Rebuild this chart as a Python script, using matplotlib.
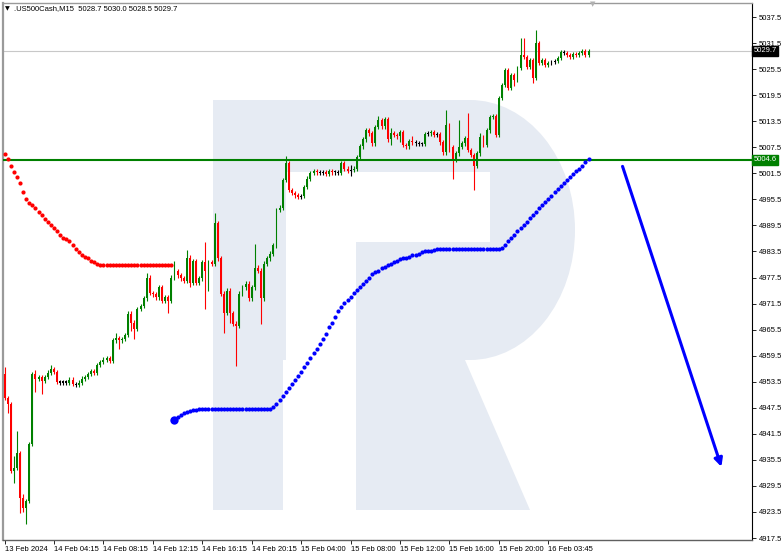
import matplotlib
matplotlib.use("Agg")
import matplotlib.pyplot as plt
from matplotlib.patches import Rectangle, Ellipse, Polygon
import numpy as np

W, H = 782, 556

# M15 closes (open = previous close)
first_open = 4955.3
closes = [
    4949.8, 4948.4, 4933.0, 4933.6, 4937.1, 4926.7, 4924.4, 4926.0, 4939.2, 4955.3,
    4954.2, 4954.6, 4953.7, 4954.6, 4955.6, 4956.5, 4955.8, 4953.5, 4953.3, 4953.5,
    4953.3, 4954.0, 4953.0, 4952.8, 4953.3, 4954.2, 4954.6, 4955.3, 4956.0, 4955.6,
    4957.4, 4958.1, 4958.6, 4959.0, 4958.3, 4963.0, 4963.6, 4963.0, 4963.4, 4964.3,
    4969.2, 4967.1, 4965.7, 4970.3, 4971.0, 4972.7, 4977.5, 4974.0, 4973.6, 4972.9,
    4975.2, 4972.2, 4972.9, 4972.2, 4977.5, 4978.9, 4978.0, 4977.3, 4976.8, 4982.1,
    4976.3, 4981.2, 4976.3, 4977.3, 4981.0, 4978.9, 4981.0, 4980.7, 4990.0, 4981.9,
    4973.8, 4969.4, 4974.5, 4969.4, 4966.9, 4966.4, 4973.8, 4975.2, 4976.1, 4972.7,
    4975.2, 4979.8, 4979.1, 4972.7, 4980.7, 4981.9, 4983.0, 4984.9, 4993.0, 4993.6,
    4999.9, 5003.8, 4997.6, 4996.9, 4996.4, 4996.0, 4996.2, 4998.3, 5000.3, 5001.5,
    5002.0, 5001.7, 5001.5, 5001.7, 5001.3, 5002.0, 5001.7, 5001.7, 5001.5, 5003.8,
    5002.6, 5002.0, 5002.2, 5002.6, 5005.2, 5007.7, 5009.3, 5011.4, 5010.7, 5008.4,
    5012.1, 5013.7, 5012.3, 5014.0, 5009.3, 5010.7, 5010.3, 5010.0, 5011.0, 5008.0,
    5007.7, 5008.9, 5008.6, 5008.4, 5008.2, 5008.2, 5010.5, 5010.7, 5011.0, 5010.3,
    5010.5, 5008.6, 5006.3, 5012.6, 5007.5, 5004.5, 5006.1, 5007.5, 5008.4, 5009.6,
    5006.8, 5005.7, 5003.3, 5006.1, 5009.8, 5008.0, 5011.4, 5014.4, 5014.7, 5010.3,
    5018.8, 5021.8, 5025.3, 5021.1, 5024.1, 5023.0, 5025.7, 5028.7, 5028.3, 5026.0,
    5027.6, 5023.4, 5031.5, 5026.9, 5027.6, 5026.4, 5026.9, 5027.1, 5027.3, 5028.0,
    5029.4, 5029.2, 5028.7, 5028.3, 5029.0, 5028.7, 5029.2, 5029.7, 5028.7, 5029.7,
]

# wick lengths beyond the body (points); bars not listed have short wicks
wick_up = {0: 1.5, 3: 2.8, 4: 5.0, 6: 1.0, 10: 1.0, 15: 0.8, 36: 1.2, 46: 1.0,
           55: 2.5, 59: 1.8, 65: 4.6, 68: 2.3, 81: 5.5, 91: 1.8, 112: 1.2,
           121: 1.0, 125: 1.3, 132: 1.2, 143: 3.4, 147: 6.2, 150: 5.9,
           154: 1.0, 167: 3.9, 168: 4.0, 172: 3.0}
wick_dn = {1: 2.0, 3: 2.8, 5: 3.4, 6: 1.0, 7: 3.7, 10: 3.0, 12: 3.0, 37: 2.0,
           41: 2.0, 42: 2.3, 53: 2.8, 60: 1.0, 65: 8.6, 66: 4.4, 71: 4.6,
           73: 2.3, 75: 9.2, 83: 6.0, 112: 1.2, 125: 1.3, 128: 1.3, 144: 1.0,
           145: 4.2, 152: 5.7, 165: 1.5, 171: 1.0}
wick_base = 0.5

# red dotted line (bars 0..54)
red_dots = [
    5005.9, 5004.7, 5003.3, 5001.7, 5000.6, 4999.2, 4997.3, 4995.5, 4994.6, 4994.1,
    4993.6, 4992.7, 4991.8, 4990.9, 4990.2, 4989.5, 4988.8, 4988.1, 4987.4, 4986.7,
    4986.3, 4985.8, 4984.9, 4984.0, 4983.3, 4982.8, 4982.3, 4981.9, 4981.4, 4981.0,
    4980.7, 4980.4, 4980.3, 4980.3, 4980.3, 4980.3, 4980.3, 4980.3, 4980.3, 4980.3,
    4980.3, 4980.3, 4980.3, 4980.3, 4980.3, 4980.3, 4980.3, 4980.3, 4980.3, 4980.3,
    4980.3, 4980.3, 4980.3, 4980.3, 4980.3,
]
red_start = 0

# blue dotted line (bars 55..189)
blue_dots = [
    4944.7, 4945.4, 4945.9, 4946.2, 4946.5, 4946.7, 4946.9, 4947.0, 4947.2, 4947.3,
    4947.3, 4947.3, 4947.3, 4947.3, 4947.3, 4947.3, 4947.3, 4947.3, 4947.3, 4947.3,
    4947.3, 4947.3, 4947.3, 4947.3, 4947.3, 4947.3, 4947.3, 4947.3, 4947.3, 4947.3,
    4947.3, 4947.3, 4947.7, 4948.4, 4949.3, 4950.3, 4951.2, 4952.1, 4953.0, 4954.0,
    4954.9, 4955.8, 4957.0, 4957.9, 4959.0, 4960.2, 4961.1, 4962.3, 4963.4, 4964.6,
    4966.0, 4967.1, 4968.5, 4969.7, 4970.8, 4971.7, 4972.4, 4973.1, 4974.0, 4974.7,
    4975.4, 4976.1, 4976.8, 4977.5, 4978.2, 4978.7, 4979.1, 4979.6, 4980.0, 4980.3,
    4980.7, 4981.0, 4981.2, 4981.7, 4981.9, 4982.1, 4982.3, 4982.6, 4982.8, 4983.0,
    4983.3, 4983.5, 4983.6, 4983.7, 4983.8, 4984.0, 4984.0, 4984.0, 4984.0, 4984.0,
    4984.0, 4984.0, 4984.0, 4984.0, 4984.0, 4984.0, 4984.0, 4984.0, 4984.0, 4984.0,
    4984.0, 4984.0, 4984.0, 4984.0, 4984.0, 4984.0, 4984.2, 4984.9, 4985.8, 4986.7,
    4987.4, 4988.3, 4989.0, 4989.7, 4990.4, 4991.1, 4991.8, 4992.7, 4993.4, 4994.1,
    4994.8, 4995.5, 4996.2, 4997.1, 4997.8, 4998.5, 4999.2, 4999.9, 5000.6, 5001.3,
    5002.0, 5002.6, 5003.3, 5004.0, 5004.7,
]
blue_start = 55

level_green = 5004.6
last_price = 5029.7
arrow_from = (200, 5003.1)
arrow_to = (232, 4933.9)

tick_bars = [0, 16, 32, 48, 64, 80, 96, 112, 128, 144, 160, 176]
tick_labels = ["13 Feb 2024", "14 Feb 04:15", "14 Feb 08:15", "14 Feb 12:15",
               "14 Feb 16:15", "14 Feb 20:15", "15 Feb 04:00", "15 Feb 08:00",
               "15 Feb 12:00", "15 Feb 16:00", "15 Feb 20:00", "16 Feb 03:45"]
yticks = np.arange(4917.5, 5038, 6.0)

title = ".US500Cash,M15  5028.7 5030.0 5028.5 5029.7"

GREEN = "#008000"
RED = "#ff0000"
WM = "#e6ebf3"
FONT = "Liberation Sans"

fig = plt.figure(figsize=(W / 100, H / 100), dpi=100)
ax = fig.add_axes([3 / W, 1 - 540 / H, (752 - 3) / W, (540 - 3) / H])

# watermark "R", in figure pixels
def fp(x, y):
    return (x / W, 1 - y / H)

def wm_rect(x0, y0, x1, y1, color):
    x, y = fp(x0, y1)
    r = Rectangle((x, y), (x1 - x0) / W, (y1 - y0) / H, transform=fig.transFigure,
                  facecolor=color, edgecolor="none", zorder=0)
    ax.add_patch(r)

wm_rect(213, 100, 283, 510, WM)
wm_rect(283, 100, 470, 360, WM)
ell = Ellipse(fp(470, 230), 210 / W, 260 / H, transform=fig.transFigure,
              facecolor=WM, edgecolor="none", zorder=0)
ax.add_patch(ell)
leg = Polygon([fp(356, 360), fp(465, 360), fp(530, 510), fp(356, 510)],
              closed=True, transform=fig.transFigure, facecolor=WM,
              edgecolor="none", zorder=0)
ax.add_patch(leg)
wm_rect(286, 172, 490, 242, "white")
wm_rect(286, 242, 356, 510, "white")

# candles
n = len(closes)
opens = [first_open] + closes[:-1]
xs = np.arange(n)
for i in range(n):
    o, c = opens[i], closes[i]
    hi = max(o, c) + wick_up.get(i, wick_base)
    lo = min(o, c) - wick_dn.get(i, wick_base)
    if abs(c - o) < 0.25:
        col = "black"
    elif c > o:
        col = GREEN
    else:
        col = RED
    ax.vlines(i, lo, hi, color=col, lw=0.8, zorder=3)
    body = max(abs(c - o), 0.25)
    ax.bar(i, body, bottom=min(o, c), width=0.62, color=col, lw=0, zorder=3)

# levels
ax.axhline(last_price, color="#c8c8c8", lw=0.8, zorder=2)
ax.axhline(level_green, color=GREEN, lw=1.5, zorder=4)

# dotted indicator lines
rx = np.arange(red_start, red_start + len(red_dots))
ax.scatter(rx, red_dots, s=9, color=RED, lw=0, zorder=5)
bx = np.arange(blue_start, blue_start + len(blue_dots))
ax.scatter(bx, blue_dots, s=9, color="#0000ff", lw=0, zorder=5)
ax.scatter([bx[0]], [blue_dots[0]], s=36, color="#0000ff", lw=0, zorder=5)

# forecast arrow
ax.annotate("", xy=arrow_to, xytext=arrow_from,
            arrowprops=dict(arrowstyle="-|>", color="#0000ff", lw=2.2,
                            mutation_scale=12, shrinkA=0, shrinkB=0), zorder=6)

ax.set_xlim(-0.5, 241.9)
ax.set_ylim(4917.04, 5040.73)

ax.yaxis.tick_right()
ax.set_yticks(yticks)
ax.set_yticklabels([f"{v:.1f}" for v in yticks])
ax.set_xticks(tick_bars)
ax.set_xticklabels(tick_labels, ha="left")
ax.tick_params(axis="y", direction="out", length=3, width=0.6, pad=2,
               labelsize=5.5, colors="black")
ax.tick_params(axis="x", direction="out", length=3, width=0.6, pad=1,
               labelsize=5.5, colors="black")
for lab in ax.get_xticklabels() + ax.get_yticklabels():
    lab.set_fontfamily(FONT)
for lab in ax.get_xticklabels():
    lab.set_x(lab.get_position()[0])

ax.spines["left"].set_color("#9a9a9a")
ax.spines["left"].set_linewidth(1.6)
ax.spines["top"].set_color("#9a9a9a")
ax.spines["top"].set_linewidth(1.0)
ax.spines["right"].set_color("black")
ax.spines["right"].set_linewidth(0.8)
ax.spines["bottom"].set_color("#606060")
ax.spines["bottom"].set_linewidth(1.0)

# price tags on the right axis
ytr = ax.get_yaxis_transform()
ax.text(1.002, last_price, "5029.7", transform=ytr, fontsize=5.5, family=FONT,
        color="white", va="center", ha="left", zorder=7, clip_on=False,
        bbox=dict(boxstyle="square,pad=0.15", fc="black", ec="black"))
ax.text(1.002, level_green, "5004.6", transform=ytr, fontsize=5.5, family=FONT,
        color="white", va="center", ha="left", zorder=7, clip_on=False,
        bbox=dict(boxstyle="square,pad=0.2", fc=GREEN, ec=GREEN))

fig.text(5 / W, 1 - 9 / H, "\u25bc", fontsize=4.5, family="DejaVu Sans",
         va="center", ha="left")
fig.text(14 / W, 1 - 9 / H, title, fontsize=5.5, family=FONT, va="center", ha="left")
fig.text(593 / W, 1 - 4 / H, "\u25bc", fontsize=5, color="#b0b0b0",
         family="DejaVu Sans", va="center", ha="center")

fig.savefig("out.png", dpi=100)
